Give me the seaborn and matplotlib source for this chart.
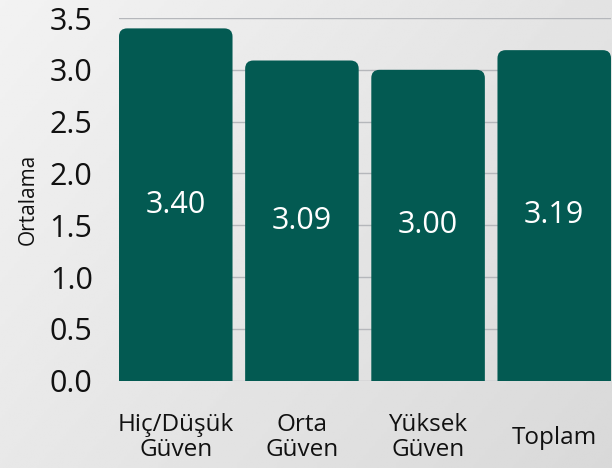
import numpy as np
import pandas as pd
import matplotlib
matplotlib.use('Agg')
import matplotlib.pyplot as plt
from matplotlib.patches import FancyBboxPatch
import seaborn as sns

# %% data
categories = ['Hiç/Düşük\nGüven', 'Orta\nGüven', 'Yüksek\nGüven', 'Toplam']
means = [3.40, 3.09, 3.00, 3.19]
yticks = [0.0, 0.5, 1.0, 1.5, 2.0, 2.5, 3.0, 3.5]

df = pd.DataFrame({'grup': categories, 'ortalama': means})

bar_color = '#035a52'
text_color = '#111111'

sns.set_theme(style='white')
plt.rcParams['font.family'] = ['Open Sans', 'DejaVu Sans']

fig = plt.figure(figsize=(6.12, 4.68), dpi=100)

# %% background (light grey wash)
bg = fig.add_axes([0, 0, 1, 1], zorder=-10)
gx, gy = np.meshgrid(np.linspace(0, 1, 200), np.linspace(0, 1, 200))
shade = 0.95 - 0.10 * (0.6 * gx + 0.4 * gy)
bg.imshow(shade, cmap='gray', vmin=0, vmax=1, extent=[0, 1, 0, 1],
          aspect='auto', origin='upper')
bg.axis('off')

# %% bars
ax = fig.add_axes([0.1944, 0.1865, 0.804, 0.775])
ax.patch.set_alpha(0)
sns.barplot(data=df, x='grup', y='ortalama', color=bar_color,
            width=0.9, saturation=1, ax=ax)

# swap the square bars for ones with rounded tops
for p in list(ax.patches):
    x0, w, h = p.get_x(), p.get_width(), p.get_height()
    p.remove()
    rb = FancyBboxPatch((x0, -0.3), w, h + 0.3,
                        boxstyle='round,pad=0,rounding_size=0.065',
                        mutation_aspect=1.22, facecolor=bar_color,
                        edgecolor='none', zorder=3)
    ax.add_patch(rb)

for i, v in enumerate(means):
    ax.text(i, v / 2, f'{v:.2f}', ha='center', va='center',
            color='white', fontsize=22, zorder=4)

ax.set_xlim(-0.45, 3.45)
ax.set_ylim(0, 3.5)
ax.set_yticks(yticks)
ax.set_yticklabels([f'{t:.1f}' for t in yticks], fontsize=22,
                   color=text_color)
ax.yaxis.grid(True, color='#b5b7bb', linewidth=1)
ax.set_axisbelow(True)
ax.tick_params(axis='both', length=0)
ax.tick_params(axis='x', labelsize=17.5, labelcolor=text_color, pad=41)
ax.tick_params(axis='y', pad=19)
for lbl in ax.get_xticklabels():
    lbl.set_linespacing(1.05)
    lbl.set_verticalalignment('center')
ax.set_xlabel('')
ax.set_ylabel('Ortalama', fontsize=15, color=text_color, labelpad=8)
sns.despine(ax=ax, left=True, bottom=True)

fig.savefig('out.png', dpi=100)
